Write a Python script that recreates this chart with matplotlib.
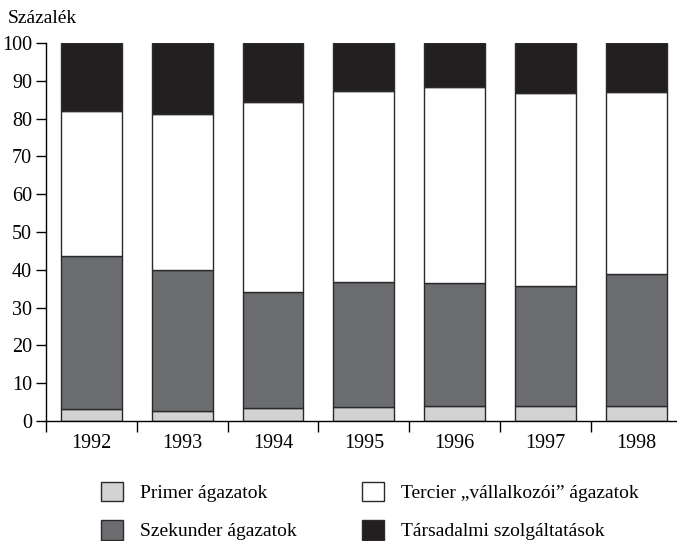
import matplotlib.pyplot as plt
import numpy as np
from matplotlib.patches import Patch

plt.rcParams['font.family'] = ['Liberation Serif', 'DejaVu Serif']

evek = ['1992', '1993', '1994', '1995', '1996', '1997', '1998']
primer = [3.2, 2.6, 3.5, 3.7, 4.0, 4.0, 4.0]
szekunder = [40.5, 37.4, 30.5, 33.1, 32.5, 31.8, 35.0]
tercier = [38.3, 41.2, 50.5, 50.5, 51.8, 51.0, 48.0]
tarsadalmi = [18.0, 18.8, 15.5, 12.7, 11.7, 13.2, 13.0]

nevek = ['Primer ágazatok', 'Szekunder ágazatok',
         'Tercier \u201evállalkozói\u201d ágazatok', 'Társadalmi szolgáltatások']
szinek = ['#d3d3d4', '#6b6c6f', '#ffffff', '#231f20']

fig = plt.figure(figsize=(6.77, 5.41), dpi=100)
ax = fig.add_axes([0.068, 0.2218, 0.932, 0.6987])

x = np.arange(len(evek))
alja = np.zeros(len(evek))
for ertekek, szin in zip([primer, szekunder, tercier, tarsadalmi], szinek):
    ax.bar(x, ertekek, bottom=alja, width=0.67, color=szin,
           edgecolor='#2a2a2a', linewidth=1.0)
    alja = alja + np.array(ertekek)

ax.set_ylim(0, 100)
ax.set_xlim(-0.5, 6.45)
ax.set_yticks(range(0, 101, 10))
ax.tick_params(axis='y', labelsize=14.5, length=7, width=1, direction='out', pad=3)

ax.set_xticks(np.arange(-0.5, 6.5, 1.0))
ax.set_xticklabels([])
ax.tick_params(axis='x', which='major', length=8, width=1, direction='out')
ax.set_xticks(x, minor=True)
ax.set_xticklabels(evek, minor=True)
ax.tick_params(axis='x', which='minor', length=0, labelsize=14.5, pad=9)

ax.spines['top'].set_visible(False)
ax.spines['right'].set_visible(False)
ax.spines['left'].set_bounds(0, 100)
for s in ['left', 'bottom']:
    ax.spines[s].set_linewidth(1.0)

fig.text(0.012, 0.966, 'Százalék', fontsize=14, ha='left', va='center')

handles = [Patch(facecolor=c, edgecolor='#2a2a2a', linewidth=1.0) for c in szinek]
fig.legend(handles, nevek, loc='center left', bbox_to_anchor=(0.149, 0.0555),
           ncol=2, frameon=False, fontsize=14, handlelength=1.15, handleheight=1.15,
           handletextpad=0.85, labelspacing=0.95, columnspacing=3.35,
           borderaxespad=0, borderpad=0)

fig.savefig('out.png', dpi=100)
